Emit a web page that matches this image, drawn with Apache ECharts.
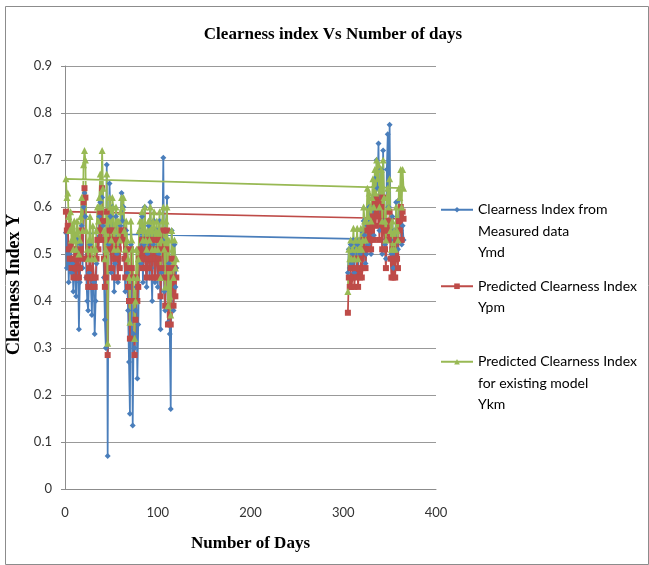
<!DOCTYPE html>
<html>
<head>
<meta charset="utf-8">
<script src="https://cdn.jsdelivr.net/npm/echarts@6/dist/echarts.min.js"></script>
<style>
  html, body { margin: 0; padding: 0; background: #fff; }
  #chart { width: 649px; height: 565px; }
</style>
</head>
<body>
<div id="chart"></div>
<script>
// day numbers: Nov-Dec first, then Jan-Apr (the order the lines are drawn in)
function dayRange(a, b) {
  const out = [];
  for (let d = a; d <= b; d++) out.push(d);
  return out;
}
const days = dayRange(305, 365).concat(dayRange(1, 120));

// measured clearness index, Ymd
const ymd = [
  0.46, 0.51, 0.47, 0.52, 0.48, 0.50, 0.53, 0.46, 0.51, 0.49,
  0.52, 0.47, 0.53, 0.50, 0.55, 0.49, 0.51, 0.57, 0.54, 0.48,
  0.50, 0.56, 0.52, 0.60, 0.53, 0.50, 0.58, 0.62, 0.54, 0.66,
  0.58, 0.70, 0.64, 0.735, 0.55, 0.62, 0.68, 0.50, 0.72, 0.57,
  0.52, 0.49, 0.68, 0.755, 0.60, 0.775, 0.53, 0.50, 0.58, 0.47,
  0.55, 0.49, 0.61, 0.53, 0.51, 0.615, 0.57, 0.55, 0.52, 0.56, 0.53,
  0.545, 0.47, 0.55, 0.44, 0.50, 0.52, 0.46, 0.48, 0.42, 0.51,
  0.45, 0.41, 0.53, 0.49, 0.34, 0.44, 0.52, 0.56, 0.47, 0.60,
  0.63, 0.58, 0.45, 0.40, 0.38, 0.46, 0.52, 0.43, 0.37, 0.49,
  0.44, 0.33, 0.40, 0.48, 0.55, 0.51, 0.58, 0.61, 0.53, 0.62,
  0.56, 0.45, 0.36, 0.30, 0.69, 0.07, 0.52, 0.65, 0.58, 0.46,
  0.60, 0.55, 0.42, 0.48, 0.58, 0.50, 0.44, 0.53, 0.47, 0.56,
  0.63, 0.57, 0.60, 0.49, 0.42, 0.55, 0.46, 0.38, 0.27, 0.16,
  0.52, 0.45, 0.135, 0.33, 0.30, 0.38, 0.43, 0.235, 0.35, 0.49,
  0.55, 0.48, 0.58, 0.44, 0.52, 0.60, 0.47, 0.43, 0.50, 0.56,
  0.45, 0.61, 0.47, 0.40, 0.52, 0.57, 0.44, 0.49, 0.55, 0.43,
  0.50, 0.57, 0.34, 0.46, 0.53, 0.705, 0.42, 0.38, 0.55, 0.62,
  0.355, 0.48, 0.33, 0.17, 0.55, 0.45, 0.38, 0.52, 0.43, 0.47
];

// predicted clearness index, Ypm
const ypm = [
  0.375, 0.45, 0.43, 0.47, 0.43, 0.45, 0.49, 0.43, 0.47, 0.45,
  0.49, 0.43, 0.47, 0.45, 0.49, 0.45, 0.47, 0.53, 0.51, 0.47,
  0.51, 0.55, 0.51, 0.56, 0.53, 0.51, 0.55, 0.58, 0.53, 0.61,
  0.56, 0.62, 0.58, 0.61, 0.53, 0.57, 0.60, 0.51, 0.62, 0.55,
  0.51, 0.47, 0.55, 0.57, 0.53, 0.59, 0.49, 0.45, 0.51, 0.45,
  0.49, 0.45, 0.53, 0.49, 0.47, 0.57, 0.55, 0.60, 0.53, 0.59, 0.575,
  0.59, 0.55, 0.56, 0.51, 0.49, 0.52, 0.47, 0.49, 0.45, 0.51,
  0.47, 0.45, 0.50, 0.49, 0.45, 0.47, 0.51, 0.55, 0.49, 0.61,
  0.64, 0.62, 0.49, 0.45, 0.43, 0.47, 0.51, 0.45, 0.43, 0.49,
  0.45, 0.43, 0.45, 0.49, 0.53, 0.51, 0.55, 0.59, 0.53, 0.64,
  0.57, 0.49, 0.43, 0.45, 0.59, 0.285, 0.51, 0.55, 0.53, 0.47,
  0.55, 0.53, 0.45, 0.49, 0.53, 0.51, 0.45, 0.51, 0.47, 0.53,
  0.55, 0.53, 0.55, 0.49, 0.45, 0.51, 0.47, 0.43, 0.40, 0.32,
  0.51, 0.47, 0.45, 0.40, 0.285, 0.36, 0.45, 0.40, 0.43, 0.49,
  0.51, 0.49, 0.53, 0.47, 0.49, 0.53, 0.47, 0.45, 0.49, 0.51,
  0.47, 0.53, 0.49, 0.45, 0.51, 0.53, 0.45, 0.49, 0.51, 0.45,
  0.49, 0.53, 0.41, 0.47, 0.51, 0.55, 0.45, 0.39, 0.51, 0.55,
  0.35, 0.47, 0.37, 0.35, 0.49, 0.45, 0.39, 0.47, 0.41, 0.45
];

// predicted clearness index for existing model, Ykm
const ykm = [
  0.42, 0.51, 0.49, 0.53, 0.49, 0.51, 0.555, 0.49, 0.53, 0.51,
  0.555, 0.49, 0.53, 0.51, 0.555, 0.51, 0.53, 0.60, 0.57, 0.53,
  0.57, 0.64, 0.58, 0.63, 0.60, 0.57, 0.62, 0.66, 0.60, 0.68,
  0.63, 0.70, 0.66, 0.69, 0.60, 0.64, 0.68, 0.57, 0.70, 0.62,
  0.57, 0.53, 0.62, 0.64, 0.60, 0.66, 0.55, 0.51, 0.57, 0.51,
  0.55, 0.51, 0.60, 0.55, 0.53, 0.64, 0.62, 0.68, 0.60, 0.68, 0.64,
  0.66, 0.62, 0.63, 0.58, 0.55, 0.59, 0.53, 0.56, 0.51, 0.57,
  0.53, 0.51, 0.57, 0.55, 0.50, 0.53, 0.58, 0.62, 0.55, 0.69,
  0.72, 0.70, 0.55, 0.51, 0.49, 0.53, 0.58, 0.51, 0.49, 0.56,
  0.51, 0.49, 0.51, 0.55, 0.60, 0.57, 0.62, 0.67, 0.60, 0.72,
  0.64, 0.55, 0.49, 0.51, 0.67, 0.31, 0.57, 0.62, 0.60, 0.53,
  0.62, 0.60, 0.51, 0.55, 0.60, 0.57, 0.51, 0.57, 0.53, 0.59,
  0.62, 0.60, 0.62, 0.55, 0.51, 0.57, 0.53, 0.49, 0.45, 0.355,
  0.57, 0.53, 0.51, 0.45, 0.32, 0.40, 0.51, 0.45, 0.49, 0.55,
  0.57, 0.55, 0.59, 0.53, 0.55, 0.60, 0.53, 0.51, 0.55, 0.57,
  0.53, 0.60, 0.55, 0.51, 0.57, 0.59, 0.51, 0.55, 0.57, 0.51,
  0.55, 0.59, 0.45, 0.53, 0.57, 0.60, 0.51, 0.43, 0.57, 0.60,
  0.39, 0.53, 0.41, 0.37, 0.55, 0.51, 0.45, 0.53, 0.47, 0.49
];

const seriesNames = [
  "Clearness Index from Measured data Ymd",
  "Predicted Clearness Index Ypm",
  "Predicted Clearness Index for existing model Ykm"
];
// legend text, padded with blank lines so the icon sits on the first line
const legendText = [
  "\n\nClearness Index from\nMeasured data\nYmd",
  "\nPredicted Clearness Index\nYpm",
  "\n\nPredicted Clearness Index\nfor existing model\nYkm"
];
const legendTops = [151, 249, 303];

const blue = "#4a7ebb";
const red = "#be4b48";
const green = "#98b954";

function pairs(values) {
  return days.map((d, i) => [d, values[i]]);
}

function makeSeries(name, values, color, symbol, size) {
  return {
    name: name,
    type: "line",
    data: pairs(values),
    symbol: symbol,
    symbolSize: size,
    showAllSymbol: true,
    lineStyle: { color: color, width: 1.75 },
    itemStyle: { color: color, borderWidth: 0 },
    emphasis: { disabled: true }
  };
}

const chart = echarts.init(document.getElementById("chart"), null, { renderer: "canvas" });

const option = {
  animation: false,
  backgroundColor: "#fff",
  title: {
    text: "Clearness index Vs Number of days",
    left: 328,
    textAlign: "center",
    top: 21,
    textStyle: {
      fontFamily: "Liberation Serif",
      fontWeight: "bold",
      fontSize: 17,
      color: "#000"
    }
  },
  legend: legendText.map((t, i) => ({
    data: [seriesNames[i]],
    orient: "vertical",
    left: 435,
    top: legendTops[i],
    itemWidth: 32,
    itemHeight: 7,
    selectedMode: false,
    formatter: () => t,
    textStyle: {
      fontFamily: "Lato",
      fontSize: 14,
      lineHeight: 21.5,
      color: "#000"
    }
  })),
  grid: {
    left: 65,
    right: 213,
    top: 66,
    bottom: 76,
    containLabel: false,
    outerBoundsMode: "none"
  },
  xAxis: {
    type: "value",
    min: 0,
    max: 400,
    interval: 100,
    name: "Number of Days",
    nameLocation: "middle",
    nameGap: 46,
    nameTextStyle: {
      fontFamily: "Liberation Serif",
      fontWeight: "bold",
      fontSize: 17,
      color: "#000"
    },
    axisLine: { show: true, lineStyle: { color: "#8c8c8c", width: 1 } },
    axisTick: { show: false },
    splitLine: { show: false },
    axisLabel: {
      margin: 17,
      fontFamily: "Lato",
      fontSize: 13,
      color: "#333"
    }
  },
  yAxis: {
    type: "value",
    min: 0,
    max: 0.9,
    interval: 0.1,
    name: "Clearness Index Y",
    nameLocation: "middle",
    nameGap: 36,
    nameRotate: 90,
    nameTextStyle: {
      fontFamily: "Liberation Serif",
      fontWeight: "bold",
      fontSize: 18,
      color: "#000",
      padding: [0, 14, 0, 0]
    },
    axisLine: { show: true, lineStyle: { color: "#8c8c8c", width: 1 } },
    axisTick: { show: true, length: 4, lineStyle: { color: "#8c8c8c" } },
    splitLine: { show: true, lineStyle: { color: "#999", width: 1 } },
    axisLabel: {
      margin: 13,
      fontFamily: "Lato",
      fontSize: 13,
      color: "#333",
      formatter: v => (v === 0 ? "0" : v.toFixed(1))
    }
  },
  graphic: [
    {
      type: "rect",
      left: 3,
      top: 4,
      shape: { width: 643, height: 558 },
      style: { fill: "none", stroke: "#8c8c8c", lineWidth: 1 },
      silent: true
    }
  ],
  series: [
    makeSeries(seriesNames[0], ymd, blue, "diamond", 6),
    makeSeries(seriesNames[1], ypm, red, "rect", 6),
    makeSeries(seriesNames[2], ykm, green, "triangle", 7)
  ]
};

chart.setOption(option);
</script>
</body>
</html>
